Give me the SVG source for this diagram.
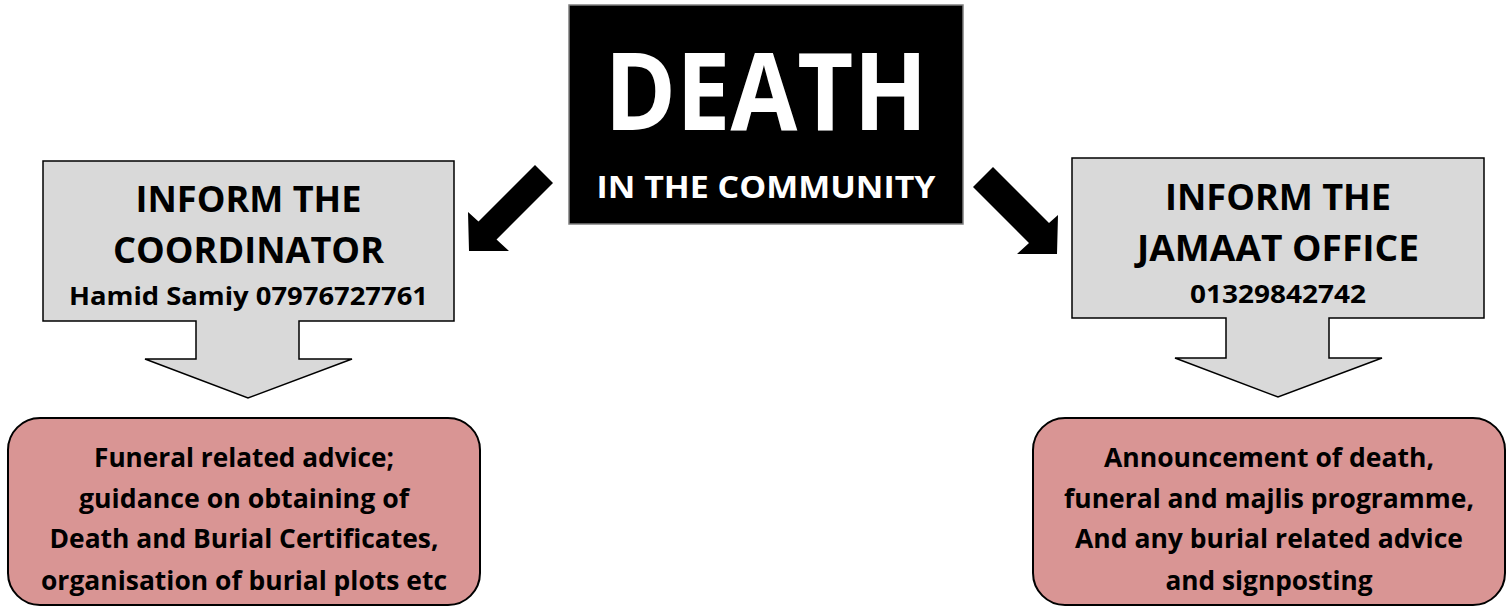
<svg xmlns="http://www.w3.org/2000/svg" width="1511" height="607" viewBox="0 0 1511 607">
<style>
.t{font-family:"Open Sans","Liberation Sans",sans-serif;font-weight:bold;text-anchor:middle;fill:#000}
.w{fill:#fff}
.callout{fill:#d9d9d9;stroke:#000;stroke-width:1.5;stroke-linejoin:miter}
.pink{fill:#d99594;stroke:#000;stroke-width:2}
.blk{fill:#000}
</style>
<rect width="1511" height="607" fill="#fff"/>
<g id="death">
<rect x="569" y="5" width="394" height="219" fill="#000" stroke="#7f7f7f" stroke-width="1.5"/>
<text class="t w" x="766" y="130" font-size="108" textLength="323" lengthAdjust="spacingAndGlyphs">DEATH</text>
<text class="t w" x="766" y="198" font-size="31" textLength="339" lengthAdjust="spacingAndGlyphs">IN THE COMMUNITY</text>
</g>
<g id="connectors">
<polygon class="blk" points="535,165 553,183 496.5,239.5 509,251 469,251 468,212 478.5,221.5"/>
<polygon class="blk" points="993,167 1049,223 1058,215 1057,254 1017,254 1029,243 973,187"/>
</g>
<g id="coordinator">
<polygon class="callout" points="43,161 454,161 454,321 299,321 299,359 352,359 248,398 145,359 196,359 196,321 43,321"/>
<text class="t" x="248.5" y="212" font-size="36" textLength="226" lengthAdjust="spacingAndGlyphs">INFORM THE</text>
<text class="t" x="248.5" y="263" font-size="36" textLength="271" lengthAdjust="spacingAndGlyphs">COORDINATOR</text>
<text class="t" x="248.5" y="305" font-size="25" textLength="359" lengthAdjust="spacingAndGlyphs">Hamid Samiy 07976727761</text>
</g>
<g id="jamaat">
<polygon class="callout" points="1072,158 1484,158 1484,318 1329,318 1329,358 1382,358 1278,397 1175,358 1226,358 1226,318 1072,318"/>
<text class="t" x="1278" y="210" font-size="36" textLength="226" lengthAdjust="spacingAndGlyphs">INFORM THE</text>
<text class="t" x="1278" y="261" font-size="36" textLength="282" lengthAdjust="spacingAndGlyphs">JAMAAT OFFICE</text>
<text class="t" x="1278" y="303" font-size="25" textLength="176" lengthAdjust="spacingAndGlyphs">01329842742</text>
</g>
<g id="advice">
<rect class="pink" x="8" y="418" width="472" height="187" rx="32"/>
<text class="t" x="244" y="467" font-size="27" textLength="300" lengthAdjust="spacingAndGlyphs">Funeral related advice;</text>
<text class="t" x="244" y="508" font-size="27" textLength="330" lengthAdjust="spacingAndGlyphs">guidance on obtaining of</text>
<text class="t" x="244" y="548" font-size="27" textLength="389" lengthAdjust="spacingAndGlyphs">Death and Burial Certificates,</text>
<text class="t" x="244" y="590" font-size="27" textLength="406" lengthAdjust="spacingAndGlyphs">organisation of burial plots etc</text>
</g>
<g id="announcement">
<rect class="pink" x="1033" y="418" width="472" height="187" rx="32"/>
<text class="t" x="1269" y="467" font-size="27" textLength="330" lengthAdjust="spacingAndGlyphs">Announcement of death,</text>
<text class="t" x="1269" y="508" font-size="27" textLength="410" lengthAdjust="spacingAndGlyphs">funeral and majlis programme,</text>
<text class="t" x="1269" y="548" font-size="27" textLength="388" lengthAdjust="spacingAndGlyphs">And any burial related advice</text>
<text class="t" x="1269" y="590" font-size="27" textLength="207" lengthAdjust="spacingAndGlyphs">and signposting</text>
</g>
</svg>
